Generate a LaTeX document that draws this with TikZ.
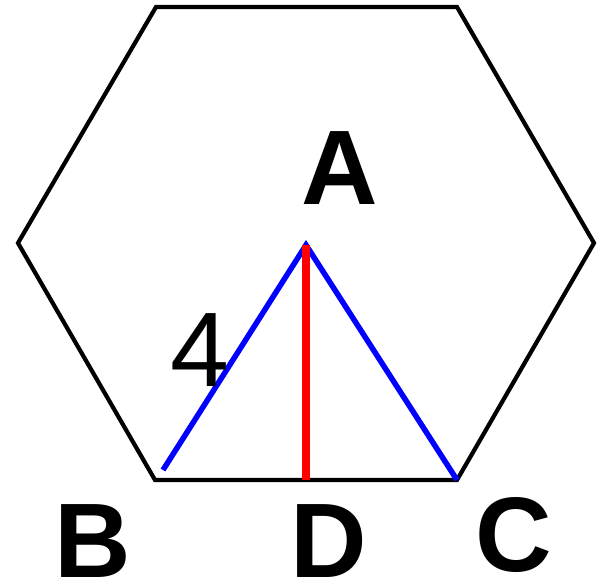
\documentclass[tikz,border=0pt]{standalone}
\usepackage{fontspec}
\setmainfont{Liberation Sans}
\begin{document}
\begin{tikzpicture}[x=1pt,y=-1pt,
  hexline/.style={line width=4.2pt,line join=miter},
  blueline/.style={blue,line width=5.5pt},
  redline/.style={red,line width=8pt},
  biglabel/.style={inner sep=0pt,font=\fontsize{106}{106}\selectfont\bfseries},
  numlabel/.style={inner sep=0pt,font=\fontsize{106}{106}\selectfont}]
\useasboundingbox (0,0) rectangle (598,586);
\coordinate (h1) at (156,7);
\coordinate (h2) at (457,7);
\coordinate (h3) at (594,243);
\coordinate (h4) at (457,480);
\coordinate (h5) at (155,480);
\coordinate (h6) at (18,243);
\coordinate (pA) at (306,245);
\coordinate (pB) at (163,470);
\coordinate (pC) at (457,480);
\coordinate (pD) at (306,480);
\draw[hexline] (h1) -- (h2) -- (h3) -- (h4) -- (h5) -- (h6) -- cycle;
\draw[blueline] (pB) -- (pA) -- (pC);
\draw[redline] (pA) -- (pD);
\node[biglabel] (lA) at (340,168) {A};
\node[biglabel] (lB) at (93,541) {B};
\node[biglabel] (lD) at (329,541) {D};
\node[biglabel] (lC) at (514,535) {C};
\node[numlabel] (l4) at (200,350) {4};
\end{tikzpicture}
\end{document}
